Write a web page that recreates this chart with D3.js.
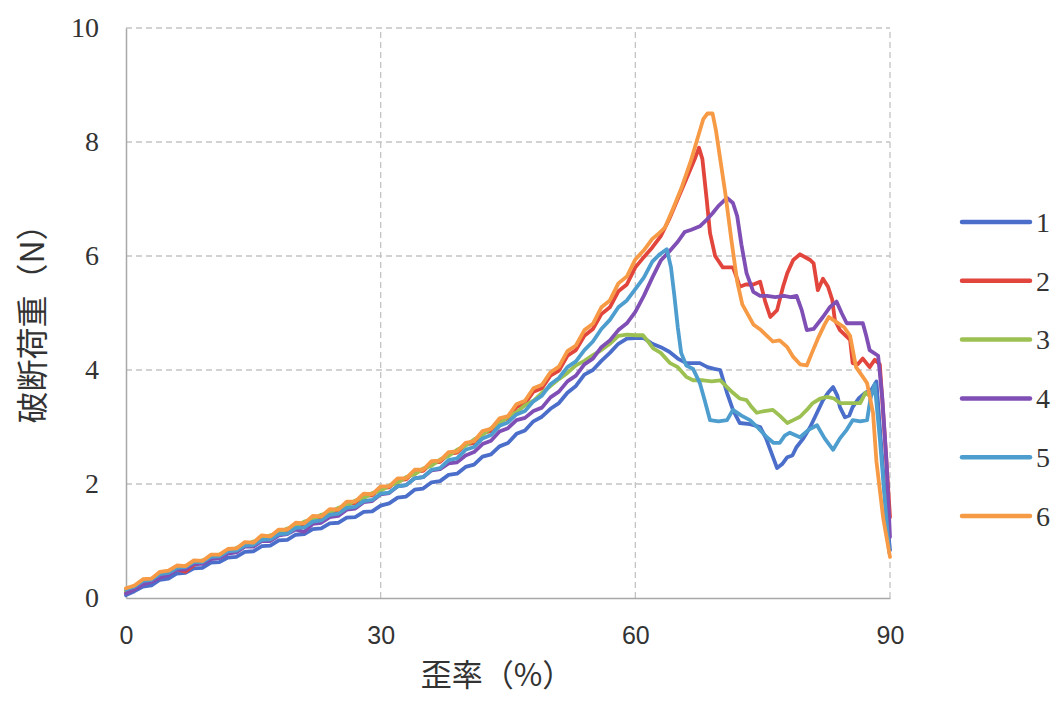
<!DOCTYPE html>
<html><head><meta charset="utf-8">
<script src="https://cdn.jsdelivr.net/npm/d3@7"></script>
<style>
html,body{margin:0;padding:0;background:#fff;}
svg{display:block;}
</style></head>
<body>
<svg id="chart" width="1060" height="702"></svg>
<script>
// ---------- data ----------
const seriesNames = ["1","2","3","4","5","6"];
const seriesColors = ["#4a6ec9","#e2453c","#9cc152","#7f4fb5","#4d9dcf","#f79a45"];
const xTicks = [0,30,60,90];
const yTicks = [0,2,4,6,8,10];
const xTitle = "歪率（%）";
const yTitle = "破断荷重（N）";

// rising part sampled at integer strain 0,1,2,...
const rise1 = [0.05,0.12,0.2,0.22,0.32,0.34,0.43,0.44,0.52,0.53,0.62,0.63,0.71,0.72,0.81,0.82,0.91,0.92,1.01,1.02,1.11,1.12,1.21,1.22,1.31,1.32,1.41,1.42,1.51,1.52,1.62,1.66,1.76,1.78,1.9,1.92,2.03,2.05,2.16,2.18,2.3,2.34,2.48,2.52,2.66,2.72,2.88,2.94,3.1,3.18,3.32,3.42,3.6,3.72,3.92,4.0,4.16,4.3,4.46,4.55,4.56,4.56,4.46,4.4,4.32,4.2,4.12];
const tail1 = [[66.8,4.12],[67.6,4.12],[68.5,4.05],[69.3,4.02],[70,4.0],[70.8,3.6],[71.5,3.3],[72.3,3.07],[73.5,3.05],[74.7,3.0],[75.4,2.8],[75.9,2.6],[76.7,2.28],[77.3,2.35],[77.9,2.47],[78.5,2.5],[79,2.65],[79.8,2.8],[80.6,3.0],[81.4,3.25],[82.1,3.47],[82.7,3.6],[83.3,3.7],[83.8,3.55],[84.1,3.35],[84.7,3.17],[85.2,3.2],[85.6,3.35],[86.3,3.5],[87.1,3.6],[87.8,3.65],[88.4,3.8],[89,2.6],[89.5,1.6],[90,0.84]];

const rise2 = [0.1,0.18,0.25,0.33,0.36,0.45,0.5,0.46,0.58,0.62,0.7,0.72,0.82,0.84,0.95,0.95,1.06,1.06,1.16,1.17,1.28,1.28,1.4,1.4,1.52,1.52,1.65,1.66,1.79,1.8,1.93,1.94,2.07,2.08,2.22,2.23,2.37,2.39,2.53,2.55,2.69,2.72,2.89,2.93,3.1,3.15,3.35,3.41,3.62,3.68,3.9,3.99,4.25,4.35,4.6,4.72,4.98,5.1,5.38,5.5,5.8,5.98,6.15,6.35,6.65,7.0,7.35,7.7];
const tail2 = [[67.5,7.9],[67.9,7.7],[68.4,7.0],[68.8,6.4],[69.4,6.0],[70.3,5.8],[71.5,5.8],[72,5.6],[72.3,5.46],[73,5.5],[73.9,5.5],[74.7,5.55],[75.3,5.2],[75.9,4.93],[76.7,5.05],[77.4,5.46],[77.9,5.7],[78.6,5.93],[79.4,6.03],[80.6,5.93],[81,5.87],[81.5,5.4],[82.1,5.6],[82.7,5.46],[83.2,5.23],[83.5,4.88],[84.1,4.7],[85.3,4.53],[85.6,4.12],[86.2,4.1],[86.8,4.2],[87.6,4.05],[88.2,4.18],[88.8,4.1],[89.4,2.8],[90,1.42]];

const rise3 = [0.12,0.2,0.26,0.34,0.38,0.46,0.5,0.56,0.6,0.66,0.7,0.76,0.8,0.88,0.92,0.99,1.03,1.1,1.14,1.22,1.26,1.34,1.38,1.46,1.5,1.58,1.62,1.71,1.75,1.84,1.88,1.97,2.02,2.12,2.17,2.27,2.32,2.43,2.49,2.6,2.67,2.78,2.86,2.98,3.06,3.18,3.26,3.38,3.46,3.6,3.72,3.84,3.95,4.08,4.16,4.26,4.35,4.46,4.6,4.62,4.61];
const tail3 = [[60.9,4.61],[61.5,4.5],[62.1,4.38],[63,4.3],[64.1,4.12],[65,4.05],[66,3.88],[66.8,3.82],[68,3.82],[69,3.8],[70,3.82],[70.8,3.7],[71.5,3.6],[72.3,3.5],[73.1,3.47],[73.7,3.35],[74.3,3.25],[75.2,3.28],[76.2,3.3],[77,3.2],[77.9,3.07],[78.6,3.12],[79.4,3.18],[80.2,3.3],[80.9,3.42],[81.8,3.5],[82.6,3.53],[83.4,3.5],[84.1,3.42],[85.3,3.42],[86.5,3.42],[87.1,3.6],[87.6,3.55]];

const rise4 = [0.08,0.15,0.24,0.28,0.36,0.4,0.5,0.5,0.6,0.6,0.68,0.7,0.78,0.8,0.9,0.9,1.0,1.0,1.1,1.12,1.2,1.16,1.3,1.32,1.42,1.44,1.55,1.57,1.68,1.7,1.82,1.84,1.96,1.98,2.1,2.12,2.24,2.26,2.36,2.38,2.5,2.56,2.7,2.76,2.92,2.98,3.12,3.16,3.28,3.34,3.52,3.62,3.8,3.9,4.1,4.2,4.4,4.52,4.7,4.82,5.02,5.3,5.62,5.92,6.08,6.25];
const tail4 = [[65.8,6.42],[66.6,6.46],[67.6,6.52],[68.3,6.62],[69.1,6.75],[69.8,6.88],[70.8,7.02],[71.5,6.93],[72,6.7],[72.5,6.2],[73.1,5.7],[73.9,5.37],[74.7,5.3],[75.5,5.3],[76.5,5.28],[77.5,5.3],[78.3,5.28],[79,5.3],[79.6,5.05],[80.2,4.7],[81,4.72],[82.1,4.93],[82.9,5.1],[83.7,5.2],[84.3,5.0],[84.9,4.82],[85.8,4.82],[86.8,4.82],[87.2,4.6],[87.6,4.35],[88.6,4.25],[89.1,3.5],[89.6,2.37],[90,1.07]];

const rise5 = [0.15,0.2,0.3,0.32,0.42,0.44,0.53,0.54,0.63,0.63,0.72,0.73,0.82,0.83,0.92,0.93,1.02,1.03,1.12,1.13,1.23,1.24,1.34,1.36,1.46,1.48,1.58,1.6,1.7,1.72,1.83,1.85,1.96,1.98,2.1,2.12,2.25,2.28,2.42,2.45,2.6,2.65,2.8,2.86,3.02,3.08,3.22,3.28,3.45,3.55,3.75,3.86,4.05,4.15,4.35,4.5,4.72,4.88,5.1,5.22,5.42,5.62,5.9];
const tail5 = [[62.8,6.02],[63.7,6.12],[64.2,5.8],[64.6,5.3],[65,4.75],[65.4,4.3],[66,4.08],[66.8,4.02],[67.6,3.77],[68.2,3.45],[68.8,3.12],[69.8,3.1],[70.8,3.12],[71.5,3.3],[72.5,3.2],[73.5,3.12],[74.5,2.98],[75.5,2.82],[76.3,2.72],[77,2.72],[77.6,2.85],[78.2,2.9],[79.4,2.82],[80.4,2.95],[81.4,3.03],[82.3,2.8],[83.3,2.6],[84.1,2.8],[84.9,2.95],[85.6,3.12],[86.5,3.1],[87.3,3.12],[87.7,3.5],[88.2,3.75],[88.8,2.8],[89.4,1.7],[89.9,0.8]];

const rise6 = [0.17,0.22,0.33,0.34,0.46,0.48,0.57,0.56,0.66,0.65,0.76,0.76,0.86,0.87,0.98,0.97,1.1,1.08,1.2,1.2,1.32,1.31,1.44,1.43,1.56,1.55,1.69,1.69,1.83,1.82,1.96,1.96,2.1,2.1,2.25,2.25,2.4,2.41,2.56,2.57,2.72,2.75,2.93,2.97,3.15,3.19,3.4,3.46,3.68,3.74,3.96,4.06,4.33,4.43,4.7,4.81,5.1,5.22,5.52,5.64,5.94,6.1,6.3];
const tail6 = [[62.8,6.4],[63.5,6.5],[64.5,6.85],[65.5,7.22],[66.5,7.65],[67.5,8.15],[68,8.4],[68.5,8.5],[69.1,8.5],[69.5,8.2],[70,7.7],[70.6,7.1],[71.3,6.3],[72,5.55],[72.6,5.15],[73.9,4.8],[74.8,4.7],[75.5,4.6],[76.2,4.5],[77,4.52],[77.9,4.4],[78.6,4.23],[79.4,4.1],[80.2,4.08],[80.8,4.3],[81.5,4.55],[82.3,4.8],[82.8,4.93],[83.6,4.85],[84.6,4.75],[85.3,4.6],[86,4.05],[86.7,3.9],[87.3,3.77],[88,3.25],[88.4,2.4],[89.2,1.4],[90,0.72]];

const rises = [rise1,rise2,rise3,rise4,rise5,rise6];
const tails = [tail1,tail2,tail3,tail4,tail5,tail6];

// ---------- layout ----------
const svg = d3.select("#chart");
const x = d3.scaleLinear().domain([0,90]).range([126,890]);
const y = d3.scaleLinear().domain([0,10]).range([598,28]);

const series = rises.map((r,i)=> r.map((v,k)=>[k,v]).concat(tails[i]));

// gridlines
const gGrid = svg.append("g");
gGrid.selectAll("line.h").data(yTicks.filter(d=>d>0)).join("line")
  .attr("x1",x(0)).attr("x2",x(90)).attr("y1",d=>y(d)).attr("y2",d=>y(d))
  .attr("stroke","#c4c4c4").attr("stroke-width",1.3).attr("stroke-dasharray","6,4");
gGrid.selectAll("line.v").data(xTicks.filter(d=>d>0)).join("line")
  .attr("y1",y(0)).attr("y2",y(10)).attr("x1",d=>x(d)).attr("x2",d=>x(d))
  .attr("stroke","#c4c4c4").attr("stroke-width",1.3).attr("stroke-dasharray","6,4");

// axes
const ax = svg.append("g").attr("transform",`translate(0,${y(0)})`)
  .call(d3.axisBottom(x).tickValues(xTicks).tickSize(0).tickPadding(28));
ax.select(".domain").attr("stroke","#a8a8a8").attr("stroke-width",1.5);
ax.selectAll("text").attr("font-family","'Liberation Sans', Arial, sans-serif")
  .attr("font-size",25).attr("fill","#333");

const ay = svg.append("g").attr("transform",`translate(${x(0)},0)`)
  .call(d3.axisLeft(y).tickValues(yTicks).tickSize(0).tickPadding(27));
ay.select(".domain").attr("stroke","#a8a8a8").attr("stroke-width",1.5);
ay.selectAll("text").attr("font-family","'Liberation Serif', 'DejaVu Serif', serif")
  .attr("font-size",28).attr("fill","#333");

// lines
const line = d3.line().x(d=>x(d[0])).y(d=>y(d[1])).curve(d3.curveLinear);
svg.append("g").selectAll("path").data(series).join("path")
  .attr("d",line).attr("fill","none")
  .attr("stroke",(d,i)=>seriesColors[i]).attr("stroke-width",3.8)
  .attr("stroke-linejoin","round").attr("stroke-linecap","round");

// titles
svg.append("text").attr("x",497).attr("y",686).attr("text-anchor","middle")
  .attr("font-family","'Noto Sans CJK JP', sans-serif").attr("font-size",31).attr("fill","#333")
  .text(xTitle);
svg.append("text").attr("transform","translate(44,316) rotate(-90)").attr("text-anchor","middle")
  .attr("font-family","'Noto Sans CJK JP', sans-serif").attr("font-size",32).attr("fill","#333")
  .text(yTitle);

// legend
const lg = svg.append("g");
const legY = d3.scaleLinear().domain([0,5]).range([222,516]);
const items = lg.selectAll("g").data(seriesNames).join("g")
  .attr("transform",(d,i)=>`translate(0,${legY(i)})`);
items.append("line").attr("x1",962).attr("x2",1030).attr("y1",0).attr("y2",0)
  .attr("stroke",(d,i)=>seriesColors[i]).attr("stroke-width",4.5).attr("stroke-linecap","round");
items.append("text").attr("x",1036).attr("y",0).attr("dy","0.35em")
  .attr("font-family","'Liberation Serif', 'DejaVu Serif', serif").attr("font-size",28).attr("fill","#333")
  .text(d=>d);
</script>
</body></html>
